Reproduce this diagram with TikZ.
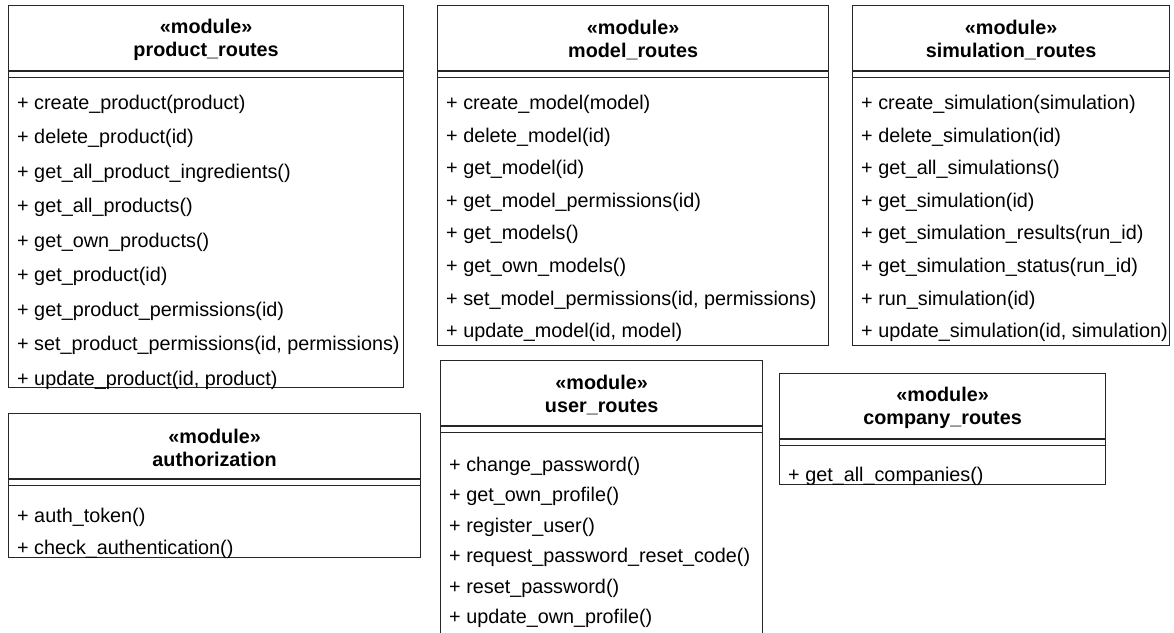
\documentclass[tikz,border=0pt]{standalone}
\usepackage{fontspec}
\setmainfont{Liberation Sans}
\usetikzlibrary{calc}
\tikzset{
  modbox/.style={draw=black!85, line width=1.2pt, anchor=north west, inner sep=0pt, fill=white},
  modtitle/.style={font=\fontsize{19.8}{22.5}\selectfont\bfseries, align=center, inner sep=0pt},
  meth/.style={font=\fontsize{19.8}{22.5}\selectfont, anchor=west, inner sep=0pt, text height=0.72em, text depth=0.24em},
  divline/.style={draw=black!85, line width=1.2pt}
}
\newcommand\umlmod[6]{%
  \node[modbox, minimum width=#4pt, minimum height=#5pt] (#1) at (#2,#3) {};
  \node[modtitle] (#1-t) at ($(#1.north)+(0,-35pt)$) {«module»\\#6};
  \draw[divline] ($(#1.north west)+(0,-66pt)$) -- ($(#1.north east)+(0,-66pt)$);
  \draw[divline] ($(#1.north west)+(0,-72.5pt)$) -- ($(#1.north east)+(0,-72.5pt)$);
}
\begin{document}
\begin{tikzpicture}[x=1pt,y=-1pt]
\clip (0,0) rectangle (1174,632);
\fill[white] (0,0) rectangle (1174,632);

% product_routes
\umlmod{prod}{8}{5}{395}{382}{product\_routes}
\node[meth] (prod1) at (17,107) {+ create\_product(product)};
\node[meth] (prod2) at (17,141.5) {+ delete\_product(id)};
\node[meth] (prod3) at (17,176) {+ get\_all\_product\_ingredients()};
\node[meth] (prod4) at (17,210.5) {+ get\_all\_products()};
\node[meth] (prod5) at (17,245) {+ get\_own\_products()};
\node[meth] (prod6) at (17,279.5) {+ get\_product(id)};
\node[meth] (prod7) at (17,314) {+ get\_product\_permissions(id)};
\node[meth] (prod8) at (17,348.5) {+ set\_product\_permissions(id, permissions)};
\node[meth] (prod9) at (17,383) {+ update\_product(id, product)};

% model_routes
\umlmod{mod}{437}{5}{391}{340}{model\_routes}
\node[meth] (mod1) at (446,107) {+ create\_model(model)};
\node[meth] (mod2) at (446,139.6) {+ delete\_model(id)};
\node[meth] (mod3) at (446,172.2) {+ get\_model(id)};
\node[meth] (mod4) at (446,204.8) {+ get\_model\_permissions(id)};
\node[meth] (mod5) at (446,237.4) {+ get\_models()};
\node[meth] (mod6) at (446,270) {+ get\_own\_models()};
\node[meth] (mod7) at (446,302.6) {+ set\_model\_permissions(id, permissions)};
\node[meth] (mod8) at (446,335.2) {+ update\_model(id, model)};

% simulation_routes
\umlmod{sim}{852}{5}{317}{340}{simulation\_routes}
\node[meth] (sim1) at (861,107) {+ create\_simulation(simulation)};
\node[meth] (sim2) at (861,139.6) {+ delete\_simulation(id)};
\node[meth] (sim3) at (861,172.2) {+ get\_all\_simulations()};
\node[meth] (sim4) at (861,204.8) {+ get\_simulation(id)};
\node[meth] (sim5) at (861,237.4) {+ get\_simulation\_results(run\_id)};
\node[meth] (sim6) at (861,270) {+ get\_simulation\_status(run\_id)};
\node[meth] (sim7) at (861,302.6) {+ run\_simulation(id)};
\node[meth] (sim8) at (861,335.2) {+ update\_simulation(id, simulation)};

% authorization
\umlmod{auth}{8}{413}{412}{144}{authorization}
\node[meth] (auth1) at (17,520) {+ auth\_token()};
\node[meth] (auth2) at (17,552) {+ check\_authentication()};

% user_routes
\umlmod{user}{440}{360}{322}{282}{user\_routes}
\node[meth] (user1) at (449,469) {+ change\_password()};
\node[meth] (user2) at (449,499.4) {+ get\_own\_profile()};
\node[meth] (user3) at (449,529.8) {+ register\_user()};
\node[meth] (user4) at (449,560.2) {+ request\_password\_reset\_code()};
\node[meth] (user5) at (449,590.6) {+ reset\_password()};
\node[meth] (user6) at (449,621) {+ update\_own\_profile()};

% company_routes
\umlmod{comp}{779}{373}{326}{111}{company\_routes}
\node[meth] (comp1) at (788,479) {+ get\_all\_companies()};
\end{tikzpicture}
\end{document}
